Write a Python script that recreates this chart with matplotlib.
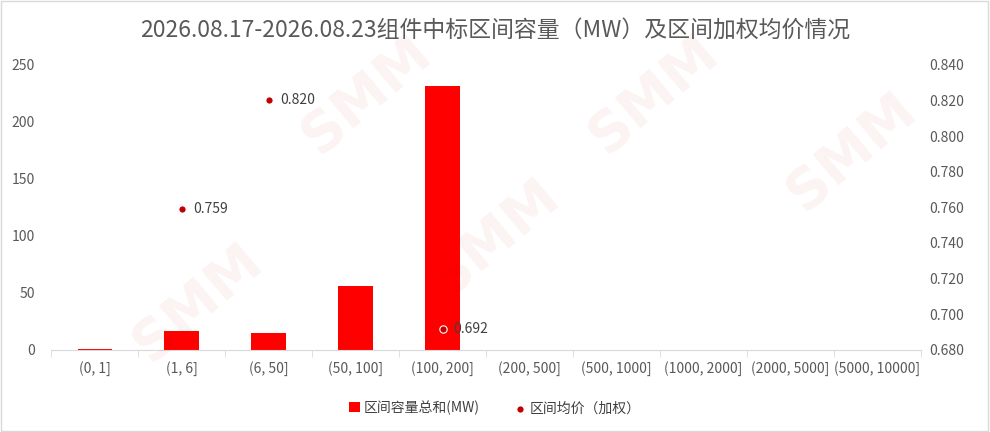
import matplotlib.pyplot as plt
import numpy as np

plt.rcParams['font.family'] = ['Noto Sans CJK SC', 'DejaVu Sans']

categories = ['(0, 1]', '(1, 6]', '(6, 50]', '(50, 100]', '(100, 200]', '(200, 500]',
              '(500, 1000]', '(1000, 2000]', '(2000, 5000]', '(5000, 10000]']
capacity = [1, 17, 15, 56, 231, 0, 0, 0, 0, 0]
price_idx = [1, 2, 4]
price = [0.759, 0.820, 0.692]

fig = plt.figure(figsize=(9.9, 4.32), dpi=100)
ax = fig.add_axes([0.052, 0.19, 0.878, 0.66])
ax2 = ax.twinx()

x = np.arange(len(categories))
ax.bar(x, capacity, width=0.4, color='#ff0000', label='区间容量总和(MW)', zorder=2)
ax2.scatter(price_idx, price, s=28, color='#c00000', edgecolors='white', linewidths=0.8,
            label='区间均价（加权）', zorder=3)
for i, p in zip(price_idx, price):
    ax2.annotate(f'{p:.3f}', (i, p), xytext=(8, 0), textcoords='offset points',
                 va='center', fontsize=10, color='#404040')

ax.set_xlim(-0.5, len(categories) - 0.5)
ax.set_ylim(0, 250)
ax.set_yticks([0, 50, 100, 150, 200, 250])
ax2.set_ylim(0.68, 0.84)
ax2.set_yticks(np.arange(0.68, 0.8401, 0.02))
ax2.set_yticklabels([f'{v:.3f}' for v in np.arange(0.68, 0.8401, 0.02)])

ax.set_xticks(x)
ax.set_xticklabels(categories)
ax.set_xticks(np.arange(-0.5, len(categories)), minor=True)
ax.tick_params(axis='x', which='major', length=0, pad=8, labelsize=10, labelcolor='#595959')
ax.tick_params(axis='x', which='minor', length=5, color='#d9d9d9')
ax.tick_params(axis='y', length=0, labelsize=10, labelcolor='#595959', pad=12)
ax2.tick_params(axis='y', length=0, labelsize=10, labelcolor='#595959', pad=6)

for a in (ax, ax2):
    for s in ['top', 'left', 'right', 'bottom']:
        a.spines[s].set_visible(False)
ax.spines['bottom'].set_visible(True)
ax.spines['bottom'].set_color('#d9d9d9')

# faint watermark
for wx, wy in [(0.2, 0.3), (0.37, 0.78), (0.5, 0.45), (0.66, 0.78), (0.86, 0.65)]:
    fig.text(wx, wy, 'SMM', fontsize=40, fontweight='bold', color='#d00000', alpha=0.05,
             rotation=40, ha='center', va='center', family='DejaVu Sans')

fig.suptitle('2026.08.17-2026.08.23组件中标区间容量（MW）及区间加权均价情况',
             y=0.955, fontsize=16.5, color='#595959')

h1, l1 = ax.get_legend_handles_labels()
h2, l2 = ax2.get_legend_handles_labels()
fig.legend(h1 + h2, l1 + l2, loc='lower center', bbox_to_anchor=(0.5, 0.01), ncol=2,
           frameon=False, fontsize=10, labelcolor='#404040', handlelength=0.8,
           handletextpad=0.3, columnspacing=2.5)

fig.patches.append(plt.Rectangle((0.001, 0.002), 0.997, 0.995, transform=fig.transFigure,
                                 fill=False, edgecolor='#d9d9d9', linewidth=1))

fig.savefig('out.png', dpi=100)
